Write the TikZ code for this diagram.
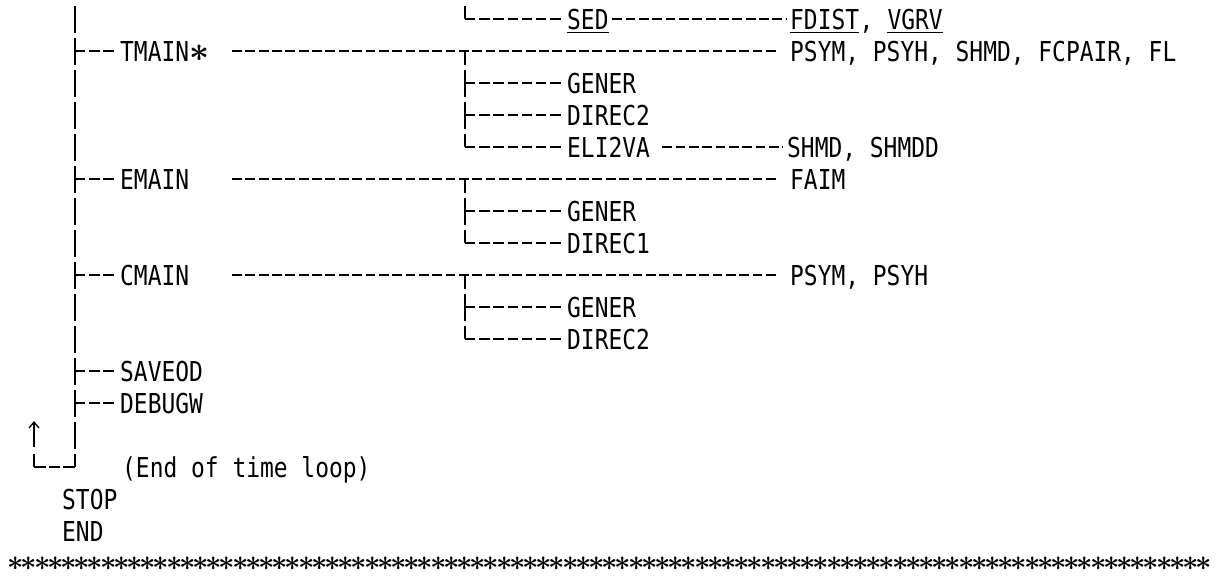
\documentclass[tikz,border=0pt]{standalone}
\usepackage{fontspec}
\usepackage{graphicx}
\usetikzlibrary{positioning,arrows.meta}
\newfontfamily\gothic[FakeStretch=0.836]{DejaVu Sans Mono}
\newcommand{\codefont}{\gothic\fontsize{27.4}{32}\selectfont}
\newcommand{\starglyph}{\scalebox{1.4}{\boldmath$\ast$}}
\newcommand{\rulestar}{\makebox[12pt][c]{\scalebox{1.15}{\fontsize{24.88}{26}\selectfont\boldmath$\ast$}}}
\begin{document}
\begin{tikzpicture}[x=1pt,y=-1pt,
  lbl/.style={font=\codefont, inner sep=0pt, anchor=west, text height=20pt, text depth=0pt},
  starmark/.style={inner sep=0pt, anchor=base, text height=14pt, text depth=0pt},
  tree/.style={line width=1.3pt, dash pattern=on 27pt off 5pt},
  branch/.style={line width=1.4pt, dash pattern=on 10.4pt off 3.8pt},
  hyph/.style={line width=1.4pt, dash pattern=on 9.8pt off 3.55pt},
  uline/.style={line width=1.8pt}]
  \useasboundingbox (0,0) rectangle (1226,576);
  \coordinate (mainx) at (75,0);
  \coordinate (subx) at (465,0);
  \coordinate (dashx) at (232,0);
  % labels
  \node[lbl] (sed) at (567,19) {SED};
  \node[lbl] (fdist) at (790,19) {FDIST};
  \node[lbl, right=0pt of fdist] (fcomma) {,};
  \node[lbl, right=13.8pt of fcomma] (vgrv) {VGRV};
  \node[lbl] (tmain) at (120,51) {TMAIN\starglyph};
  \node[lbl] (psym1) at (790,51) {PSYM, PSYH, SHMD, FCPAIR, FL};
  \node[lbl] (gener1) at (567,83) {GENER};
  \node[lbl] (direcb) at (567,115) {DIREC2};
  \node[lbl] (eli2va) at (567,147) {ELI2VA};
  \node[lbl] (shmd) at (787,147) {SHMD, SHMDD};
  \node[lbl] (emain) at (120,179) {EMAIN};
  \node[lbl] (faim) at (790,179) {FAIM};
  \node[lbl] (gener2) at (567,211) {GENER};
  \node[lbl] (direca) at (567,243) {DIREC1};
  \node[lbl] (cmain) at (120,275) {CMAIN};
  \node[lbl] (psym2) at (790,275) {PSYM, PSYH};
  \node[lbl] (gener3) at (567,307) {GENER};
  \node[lbl] (direcc) at (567,339) {DIREC2};
  \node[lbl] (saveod) at (120,371) {SAVEOD};
  \node[lbl] (debugw) at (120,403) {DEBUGW};
  \node[lbl] (loop) at (122,467) {(End of time loop)};
  \node[lbl] (stop) at (62,499) {STOP};
  \node[lbl] (end) at (62,531) {END};
  \foreach \i in {0,...,90}
    \node[starmark] (star\i) at ({16+13.2*\i},570.2) {\rulestar};
  % underlines
  \draw[uline] ([yshift=-13.5pt]sed.west) -- ([yshift=-13.5pt]sed.east);
  \draw[uline] ([yshift=-13.5pt]fdist.west) -- ([yshift=-13.5pt]fdist.east);
  \draw[uline] ([yshift=-13.5pt]vgrv.west) -- ([yshift=-13.5pt]vgrv.east);
  % main line and branches
  \draw[tree] (75,6) -- (mainx |- loop.west);
  \foreach \n in {tmain,emain,cmain,saveod,debugw}
    \draw[branch] (mainx |- \n.west) -- ([xshift=-6pt]\n.west);
  \draw[hyph] (dashx |- tmain.west) -- ([xshift=-13pt]psym1.west);
  \draw[hyph] (dashx |- emain.west) -- ([xshift=-13pt]faim.west);
  \draw[hyph] (dashx |- cmain.west) -- ([xshift=-13pt]psym2.west);
  % sub lines
  \draw[tree] (465,6) -- (subx |- sed.west);
  \draw[tree, dash phase=13pt] (subx |- tmain.west) -- (subx |- eli2va.west);
  \draw[tree, dash phase=13pt] (subx |- emain.west) -- (subx |- direca.west);
  \draw[tree, dash phase=13pt] (subx |- cmain.west) -- (subx |- direcc.west);
  \foreach \n in {sed,gener1,direcb,eli2va,gener2,direca,gener3,direcc}
    \draw[branch] (subx |- \n.west) -- ([xshift=-6pt]\n.west);
  \draw[hyph] ([xshift=3.5pt]sed.east) -- ([xshift=-4pt]fdist.west);
  \draw[hyph] ([xshift=12pt]eli2va.east) -- ([xshift=-4pt]shmd.west);
  % time loop
  \coordinate (lpc) at (34,467);
  \draw[tree] (34,454) -- (lpc);
  \draw[line width=1.3pt, dash pattern=on 11.5pt off 3pt] (lpc) -- (mainx |- lpc);
  \coordinate (arrbot) at (34,447);
  \coordinate (arrtop) at (34,421);
  \draw[line width=1.3pt, -{Straight Barb[length=6pt,width=10pt]}] (arrbot) -- (arrtop);
\end{tikzpicture}
\end{document}
